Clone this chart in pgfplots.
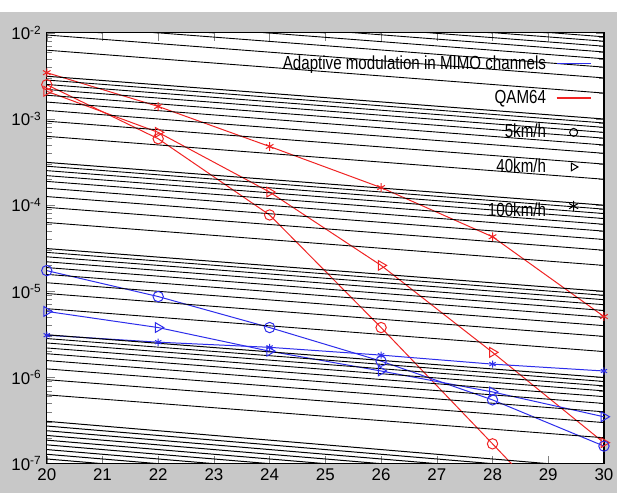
\documentclass[border=0pt]{standalone}
\usepackage{fontspec}
\setmainfont{Liberation Sans}
\newfontfamily\narrowfont{Liberation Sans}[FakeStretch=0.8]
\usepackage{pgfplots}
\pgfplotsset{compat=1.18}
\definecolor{bgrey}{RGB}{200,200,200}
\definecolor{mblue}{RGB}{45,45,235}
\definecolor{mred}{RGB}{240,35,35}

\begin{document}
\begin{tikzpicture}
\fill[bgrey] (-23.5pt,-14.5pt) rectangle (286.5pt,227pt);
\fill[white] (0pt,0pt) rectangle (280pt,216.5pt);
\path (-23.5pt,-14.5pt) rectangle (286.5pt,233pt);
\begin{axis}[at={(0pt,0pt)}, anchor=south west, scale only axis,
  width=280pt, height=216.5pt,
  ymode=log, log basis y=10, xmin=20, xmax=30, ymin=1e-7, ymax=1e-2,
  xtick={20,21,...,30},
  log number format basis/.code 2 args={10\textsuperscript{\pgfmathprintnumber[assume math mode=true]{#2}}},
  /pgf/number format/assume math mode=true,
  tick label style={font=\fontsize{8.5}{9}\selectfont},
  xticklabel style={yshift=1pt},
  yticklabel style={xshift=1pt},
  major tick length=4pt, minor tick length=2.5pt,
  axis line style={line width=0.6pt},
  legend plot pos=right,
  legend cell align=right,
  legend style={at={(0.978,0.958)}, anchor=north east, draw=none, fill=none,
    font=\narrowfont\fontsize{9.5}{10}\selectfont, row sep=5pt, column sep=3pt, inner sep=0pt},
  every axis plot/.append style={line width=0.5pt},
]
% red: QAM64
\addplot[mred, mark=o, mark size=2.6pt, forget plot] coordinates {
  (20,2.5e-3) (22,5.9e-4) (24,7.7e-5) (26,3.8e-6) (28,1.7e-7) (30,7.5e-9)};
\addplot[mred, mark=triangle, mark size=2.8pt, mark options={rotate=-90}, forget plot] coordinates {
  (20,2.1e-3) (22,7.0e-4) (24,1.42e-4) (26,2.0e-5) (28,1.96e-6) (30,1.75e-7)};
\addplot[mred, mark=asterisk, mark size=2.2pt, forget plot] coordinates {
  (20,3.45e-3) (22,1.4e-3) (24,4.8e-4) (26,1.6e-4) (28,4.3e-5) (30,5.1e-6)};
% blue: adaptive modulation
\addplot[mblue, mark=o, mark size=2.6pt, forget plot] coordinates {
  (20,1.74e-5) (22,8.7e-6) (24,3.8e-6) (26,1.55e-6) (28,5.5e-7) (30,1.6e-7)};
\addplot[mblue, mark=triangle, mark size=2.8pt, mark options={rotate=-90}, forget plot] coordinates {
  (20,5.85e-6) (22,3.8e-6) (24,2.02e-6) (26,1.19e-6) (28,6.8e-7) (30,3.5e-7)};
\addplot[mblue, mark=asterisk, mark size=1.8pt, forget plot] coordinates {
  (20,3.1e-6) (22,2.57e-6) (24,2.24e-6) (26,1.82e-6) (28,1.43e-6) (30,1.19e-6)};
% tick marks drawn on the frame
\pgfplotsextra{
  \foreach \xx in {21,...,29} {
    \draw[black, line width=0.5pt] (axis cs:\xx,1e-7) -- ++(0,4pt);
    \draw[black, line width=0.5pt] (axis cs:\xx,1e-2) -- ++(0,-4pt);
  }
  \foreach \dd in {-7,...,-3} {
    \foreach \kk in {2,...,9} {
      \draw[black, line width=0.45pt] (axis cs:20,\kk e\dd) -- ++(2.5pt,0);
      \draw[black, line width=0.45pt] (axis cs:30,\kk e\dd) -- ++(-2.5pt,0);
    }
  }
  \foreach \dd in {-6,...,-3} {
    \draw[black, line width=0.5pt] (axis cs:20,1e\dd) -- ++(4pt,0);
    \draw[black, line width=0.5pt] (axis cs:30,1e\dd) -- ++(-4pt,0);
  }
}
% legend
\addlegendimage{draw=mblue, line width=0.7pt}
\addlegendentry{Adaptive modulation in MIMO channels}
\addlegendimage{draw=mred, line width=0.7pt}
\addlegendentry{QAM64}
\addlegendimage{only marks, black, mark=o, mark size=2pt}
\addlegendentry{5km/h}
\addlegendimage{only marks, black, mark=triangle, mark size=2.2pt, mark options={rotate=-90}}
\addlegendentry{40km/h}
\addlegendimage{only marks, black, mark=asterisk, mark size=2.6pt}
\addlegendentry{\rule{0pt}{11.5pt}100km/h}
\end{axis}
\end{tikzpicture}
\end{document}
